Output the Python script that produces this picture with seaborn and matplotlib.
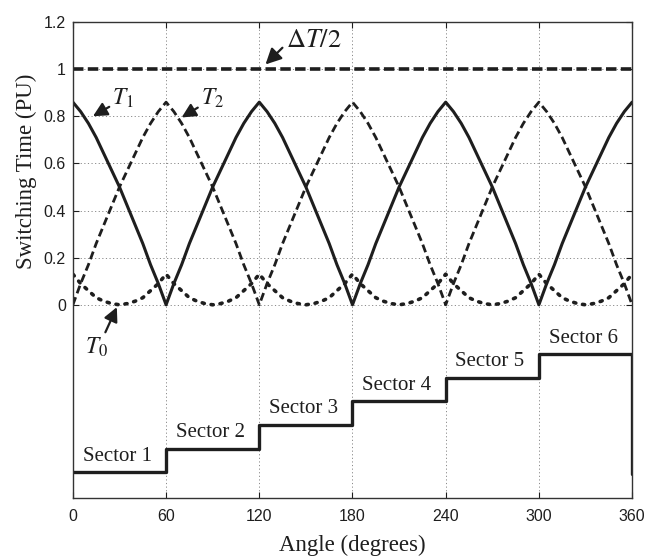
import numpy as np
import pandas as pd
import matplotlib
matplotlib.use("Agg")
import matplotlib.pyplot as plt
import seaborn as sns

# ---- data ----
angle = [0, 5, 10, 15, 20, 25, 30, 35, 40, 45, 50, 55, 60,
         65, 70, 75, 80, 85, 90, 95, 100, 105, 110, 115, 120,
         125, 130, 135, 140, 145, 150, 155, 160, 165, 170, 175, 180,
         185, 190, 195, 200, 205, 210, 215, 220, 225, 230, 235, 240,
         245, 250, 255, 260, 265, 270, 275, 280, 285, 290, 295, 300,
         305, 310, 315, 320, 325, 330, 335, 340, 345, 350, 355, 360]

t_solid = [0.86, 0.82, 0.77, 0.71, 0.64, 0.57, 0.50, 0.42, 0.34, 0.26, 0.17, 0.09, 0.00,
           0.09, 0.17, 0.26, 0.34, 0.42, 0.50, 0.57, 0.64, 0.71, 0.77, 0.82, 0.86,
           0.82, 0.77, 0.71, 0.64, 0.57, 0.50, 0.42, 0.34, 0.26, 0.17, 0.09, 0.00,
           0.09, 0.17, 0.26, 0.34, 0.42, 0.50, 0.57, 0.64, 0.71, 0.77, 0.82, 0.86,
           0.82, 0.77, 0.71, 0.64, 0.57, 0.50, 0.42, 0.34, 0.26, 0.17, 0.09, 0.00,
           0.09, 0.17, 0.26, 0.34, 0.42, 0.50, 0.57, 0.64, 0.71, 0.77, 0.82, 0.86]

t_dashed = [0.00, 0.09, 0.17, 0.26, 0.34, 0.42, 0.50, 0.57, 0.64, 0.71, 0.77, 0.82, 0.86,
            0.82, 0.77, 0.71, 0.64, 0.57, 0.50, 0.42, 0.34, 0.26, 0.17, 0.09, 0.00,
            0.09, 0.17, 0.26, 0.34, 0.42, 0.50, 0.57, 0.64, 0.71, 0.77, 0.82, 0.86,
            0.82, 0.77, 0.71, 0.64, 0.57, 0.50, 0.42, 0.34, 0.26, 0.17, 0.09, 0.00,
            0.09, 0.17, 0.26, 0.34, 0.42, 0.50, 0.57, 0.64, 0.71, 0.77, 0.82, 0.86,
            0.82, 0.77, 0.71, 0.64, 0.57, 0.50, 0.42, 0.34, 0.26, 0.17, 0.09, 0.00]

t_zero = [0.13, 0.09, 0.06, 0.03, 0.015, 0.005, 0.00, 0.005, 0.015, 0.03, 0.06, 0.09, 0.13,
          0.09, 0.06, 0.03, 0.015, 0.005, 0.00, 0.005, 0.015, 0.03, 0.06, 0.09, 0.13,
          0.09, 0.06, 0.03, 0.015, 0.005, 0.00, 0.005, 0.015, 0.03, 0.06, 0.09, 0.13,
          0.09, 0.06, 0.03, 0.015, 0.005, 0.00, 0.005, 0.015, 0.03, 0.06, 0.09, 0.13,
          0.09, 0.06, 0.03, 0.015, 0.005, 0.00, 0.005, 0.015, 0.03, 0.06, 0.09, 0.13,
          0.09, 0.06, 0.03, 0.015, 0.005, 0.00, 0.005, 0.015, 0.03, 0.06, 0.09, 0.13]

half_dt_x = [0, 360]
half_dt_y = [1.0, 1.0]

sector_x = [0, 60, 120, 180, 240, 300, 360]
sector_y = [-0.71, -0.61, -0.51, -0.41, -0.31, -0.21, -0.72]
sector_names = ["Sector 1", "Sector 2", "Sector 3", "Sector 4", "Sector 5", "Sector 6"]

x_ticks = [0, 60, 120, 180, 240, 300, 360]
y_ticks = [0, 0.2, 0.4, 0.6, 0.8, 1.0, 1.2]
y_tick_labels = ["0", "0.2", "0.4", "0.6", "0.8", "1", "1.2"]

# ---- style ----
sns.set_theme(style="white")
plt.rcParams["font.family"] = ["Liberation Sans", "DejaVu Sans"]
plt.rcParams["mathtext.fontset"] = "stix"

fig = plt.figure(figsize=(6.45, 5.58), dpi=100)
ax = fig.add_axes([0.113, 0.1075, 0.867, 0.853])

ink = "#1e1e1e"
df = pd.DataFrame({"angle": angle, "solid": t_solid, "dashed": t_dashed, "zero": t_zero})

sns.lineplot(data=df, x="angle", y="solid", ax=ax, color=ink, lw=2.2,
             estimator=None, sort=False)
sns.lineplot(data=df, x="angle", y="dashed", ax=ax, color=ink, lw=2.0,
             estimator=None, sort=False)
ax.lines[-1].set_dashes((2.9, 1.5))
sns.lineplot(data=df, x="angle", y="zero", ax=ax, color=ink, lw=2.6,
             estimator=None, sort=False)
ax.lines[-1].set_dashes((0.6, 1.9))
ax.lines[-1].set_dash_capstyle("round")
sns.lineplot(x=half_dt_x, y=half_dt_y, ax=ax, color=ink, lw=2.6,
             estimator=None, sort=False)
ax.lines[-1].set_dashes((2.9, 1.2))
sns.lineplot(x=sector_x, y=sector_y, ax=ax, color=ink, lw=2.4,
             estimator=None, sort=False, drawstyle="steps-post")

# sector labels
serif = ["Liberation Serif", "DejaVu Serif"]
for i, name in enumerate(sector_names):
    xm = (sector_x[i] + sector_x[i + 1]) / 2 - 1.5
    ax.text(xm, sector_y[i] + 0.068, name, ha="center", va="center",
            fontsize=15, family=serif, color=ink)

# annotations
arrow = dict(arrowstyle="-|>,head_length=0.5,head_width=0.25", color=ink, lw=1.6,
             shrinkA=0, shrinkB=0)
ax.annotate(r"$T_1$", xy=(12.9, 0.80), xytext=(25.5, 0.875), fontsize=17,
            ha="left", va="center", color=ink, arrowprops=arrow)
ax.annotate(r"$T_2$", xy=(70, 0.795), xytext=(82.5, 0.875), fontsize=17,
            ha="left", va="center", color=ink, arrowprops=arrow)
ax.annotate(r"$\Delta T/2$", xy=(124, 1.02), xytext=(137, 1.125), fontsize=19,
            ha="left", va="center", color=ink,
            arrowprops=dict(arrow, relpos=(0.0, 0.3)), annotation_clip=False)
ax.annotate(r"$T_0$", xy=(28.3, -0.01), xytext=(15.5, -0.18), fontsize=17,
            ha="center", va="center", color=ink,
            arrowprops=dict(arrow, relpos=(0.8, 1.0)))

# axes
ax.set_xlim(0, 360)
ax.set_ylim(-0.82, 1.2)
ax.set_xticks(x_ticks)
ax.set_yticks(y_ticks)
ax.set_yticklabels(y_tick_labels)
ax.tick_params(direction="in", length=4, width=0.8, labelsize=11.5, colors=ink,
               pad=5, top=True, right=True, bottom=True, left=True)
ax.tick_params(axis="x", pad=8)
ax.grid(True, linestyle=(0, (1.2, 2.5)), color="#8a8a8a", lw=0.7)
for s in ax.spines.values():
    s.set_color("#333333")
    s.set_linewidth(1.0)

ax.set_xlabel("Angle (degrees)", family=serif, fontsize=16.5, color=ink, labelpad=8)
ax.set_ylabel("Switching Time (PU)", family=serif, fontsize=16.5, color=ink)
ax.yaxis.set_label_coords(-0.064, 0.687)

fig.savefig("out.png", dpi=100, facecolor="white")
